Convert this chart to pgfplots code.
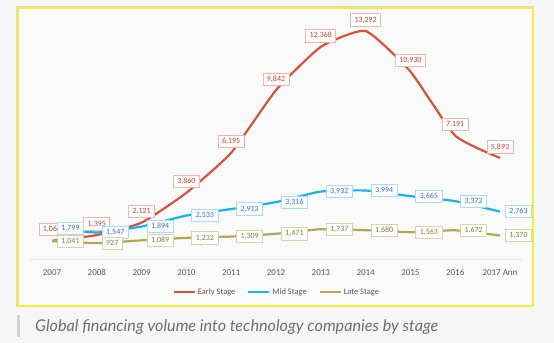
\documentclass[border=0pt]{standalone}
\usepackage{pgfplots}
\pgfplotsset{compat=1.18}
\usepackage{fontspec}
\setmainfont{Carlito}
\newfontfamily\capfont{Lato}
\definecolor{early}{HTML}{D4533B}
\definecolor{mid}{HTML}{17B2EA}
\definecolor{late}{HTML}{B2A755}
\definecolor{earlyt}{HTML}{B5463A}
\definecolor{midt}{HTML}{3A6DB4}
\definecolor{latet}{HTML}{7F7A3C}
\definecolor{earlyb}{HTML}{F0B3A8}
\definecolor{midb}{HTML}{A5DDF5}
\definecolor{lateb}{HTML}{D9D3A8}
\definecolor{bgout}{HTML}{F6F6F6}
\definecolor{bgin}{HTML}{FAFAFA}
\definecolor{yel}{HTML}{F4EC3C}
\definecolor{capc}{HTML}{6E6E72}
\definecolor{barc}{HTML}{D2D2D2}
\definecolor{tickc}{HTML}{595959}
\begin{document}
\begin{tikzpicture}
\useasboundingbox (0bp,0bp) rectangle (554bp,343bp);
\fill[bgout] (0bp,0bp) rectangle (554bp,343bp);
\fill[bgin] (18bp,37bp) rectangle (533bp,335bp);
\draw[black!15, line width=1bp] (16.5bp,36bp) -- (16.5bp,336.5bp) -- (534bp,336.5bp);
\draw[yel, line width=2bp] (18bp,37bp) rectangle (533bp,335bp);
\fill[barc] (17bp,6bp) rectangle (19.5bp,28bp);
\node[anchor=base west, inner sep=0pt, text=capc, font=\capfont\itshape] at (35bp,12bp) {\resizebox{403bp}{!}{Global financing volume into technology companies by stage}};
\begin{axis}[
  at={(29.6bp,84bp)}, anchor=south west, scale only axis,
  width=492.8bp, height=240.1bp,
  xmin=-0.5, xmax=10.5, ymin=0, ymax=14000,
  clip=false,
  axis x line*=bottom, axis y line=none,
  x axis line style={draw=black!10, line width=0.8bp, -},
  major tick length=0pt,
  xtick={0,...,10},
  xticklabels={2007,2008,2009,2010,2011,2012,2013,2014,2015,2016,2017 Ann},
  xticklabel style={font=\fontsize{9}{10}\selectfont, text=tickc, yshift=-7bp},
  ytick=\empty,
  /pgf/number format/.cd, fixed, precision=0, 1000 sep={,}, assume math mode=true, /pgfplots/.cd,
  legend style={at={(0.502,-0.1375)}, anchor=center, draw=none, fill=none,
    legend columns=3, font=\fontsize{8.5}{9}\selectfont, text=tickc,
    /tikz/every even column/.append style={column sep=10bp},
    nodes={inner xsep=2bp}},
  legend image code/.code={\draw[#1, line width=2bp] (0bp,0bp) -- (21bp,0bp);},
  every node near coord/.append style={font=\fontsize{8}{9}\selectfont, fill=white, line width=0.8bp, inner xsep=4bp, inner ysep=2.5bp, text height=5.8bp, text depth=1.5bp},
]
\addplot[early, line width=2.2bp, smooth, tension=0.3, nodes near coords,
  every node near coord/.append style={draw=earlyb, text=earlyt, anchor=south, yshift=4.5bp}]
  coordinates {(0,1065) (1,1395) (2,2121) (3,3860) (4,6195) (5,9842) (6,12368) (7,13292) (8,10930) (9,7191) (10,5893)};
\addlegendentry{Early Stage}
\addplot[mid, line width=2.2bp, smooth, tension=0.3, nodes near coords,
  every node near coord/.append style={draw=midb, text=midt, anchor=west, xshift=5bp}]
  coordinates {(0,1799) (1,1547) (2,1894) (3,2533) (4,2913) (5,3316) (6,3932) (7,3994) (8,3665) (9,3372) (10,2763)};
\addlegendentry{Mid Stage}
\addplot[late, line width=2.2bp, smooth, tension=0.3, nodes near coords,
  every node near coord/.append style={draw=lateb, text=latet, anchor=west, xshift=5bp}]
  coordinates {(0,1041) (1,927) (2,1089) (3,1232) (4,1309) (5,1471) (6,1737) (7,1680) (8,1563) (9,1672) (10,1370)};
\addlegendentry{Late Stage}
\end{axis}
\end{tikzpicture}
\end{document}
